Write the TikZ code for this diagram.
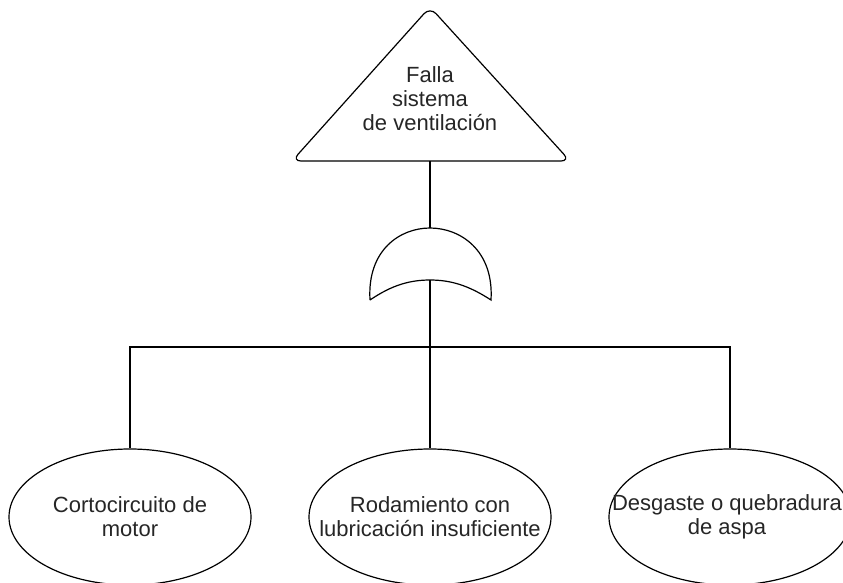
\documentclass[tikz,border=0pt]{standalone}
\usepackage{fontspec}
\setmainfont{Liberation Sans}
\usetikzlibrary{shapes.geometric}
\begin{document}
\begin{tikzpicture}[x=1pt,y=-1pt,
  line width=1.2pt,
  lbl/.style={font=\fontsize{22}{24}\selectfont, align=center, text=black!85, inner sep=0pt},
  event/.style={ellipse, draw, minimum width=242pt, minimum height=136pt, inner sep=0pt},
  wire/.style={draw, line cap=butt}]
\useasboundingbox (0,0) rectangle (843,582);
\clip (0,0) rectangle (843,582);

% top event: rounded triangle
\draw[rounded corners=9pt] (292,161) -- (430,7) -- (570,161) -- cycle;
\node[lbl] (top) at (430,99) {Falla\\sistema\\de ventilación};
\coordinate (topbase) at (430,161);

% OR gate
\draw (370,300) .. controls (367,250) and (400,228) .. (430,228)
      .. controls (460,228) and (494,250) .. (491,300)
      .. controls (468,285) and (450,280) .. (430,280)
      .. controls (410,280) and (392,285) .. (370,300);
\coordinate (gtop) at (430,228);
\coordinate (gbot) at (430,280);

% basic events (outline and label kept separate so the outline keeps its size)
\node[event] (e1) at (130,517) {};
\node[event] (e2) at (430,517) {};
\node[event] (e3) at (730,517) {};
\node[lbl] (t1) at (e1.center) {Cortocircuito de\\motor};
\node[lbl] (t2) at (e2.center) {Rodamiento con\\lubricación insuficiente};
\node[lbl] (t3) at ([xshift=-3pt]e3.center) {Desgaste o quebradura\\de aspa};

\coordinate (bar) at (430,347);

% connectors
\draw[wire] (topbase) -- (gtop);
\draw[wire] (gbot) -- (bar);
\draw[wire] (bar) -| (e1.north);
\draw[wire] (bar) -- (e2.north);
\draw[wire] (bar) -| (e3.north);
\end{tikzpicture}
\end{document}
